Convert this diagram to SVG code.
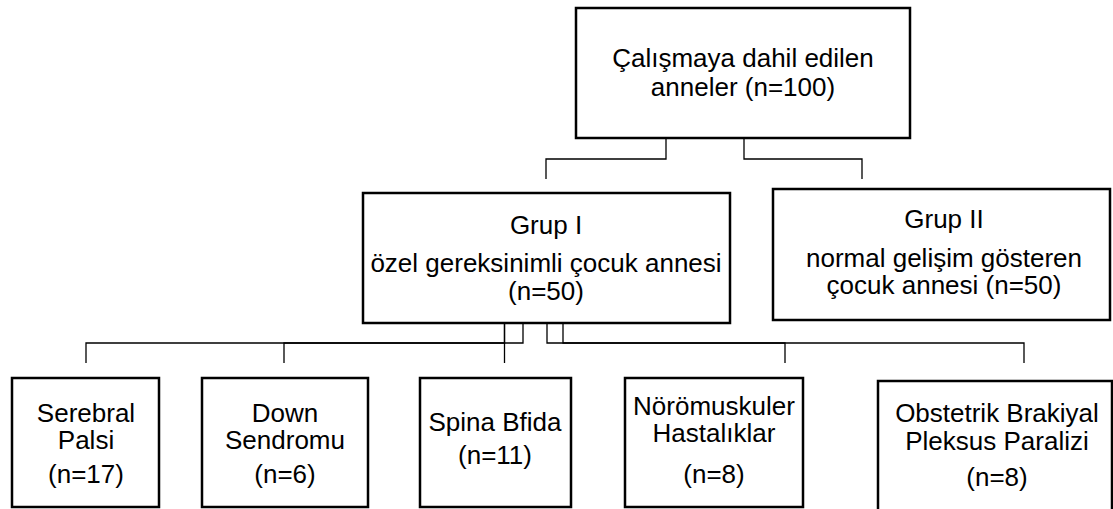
<svg xmlns="http://www.w3.org/2000/svg" width="1113" height="509" viewBox="0 0 1113 509">
<style>
.box{fill:#fff;stroke:#000;stroke-width:2.5}
.con{fill:none;stroke:#000;stroke-width:1.3}
text{font-family:"Liberation Sans",Arial,sans-serif;font-size:26px;fill:#000;text-anchor:middle}
</style>
<rect width="1113" height="509" fill="#fff"/>
<g id="connectors">
<path class="con" d="M666,138V159H546V179"/>
<path class="con" d="M744,138V159H862V179"/>
<path class="con" d="M504.5,323V343H86V363"/>
<path class="con" d="M523,323V343H284V363"/>
<path class="con" d="M504.5,323V363"/>
<path class="con" d="M547,323V343H785V363"/>
<path class="con" d="M563,323V343H1024V363"/>
</g>
<g id="root">
<rect class="box" x="576" y="8" width="334" height="130"/>
<text x="743" y="67">Çalışmaya dahil edilen</text>
<text x="743" y="96">anneler (n=100)</text>
</g>
<g id="grup1">
<rect class="box" x="363" y="193" width="367" height="130"/>
<text x="546" y="234">Grup I</text>
<text x="546" y="272">özel gereksinimli çocuk annesi</text>
<text x="546" y="300">(n=50)</text>
</g>
<g id="grup2">
<rect class="box" x="773" y="189" width="337" height="131"/>
<text x="944" y="228">Grup II</text>
<text x="944" y="267">normal gelişim gösteren</text>
<text x="944" y="294">çocuk annesi (n=50)</text>
</g>
<g id="sp">
<rect class="box" x="12" y="378" width="147" height="129"/>
<text x="86" y="422">Serebral</text>
<text x="86" y="449">Palsi</text>
<text x="86" y="483">(n=17)</text>
</g>
<g id="ds">
<rect class="box" x="202" y="378" width="166" height="129"/>
<text x="285" y="422">Down</text>
<text x="285" y="449">Sendromu</text>
<text x="285" y="483">(n=6)</text>
</g>
<g id="sb">
<rect class="box" x="420" y="378" width="151" height="129"/>
<text x="495" y="431">Spina Bfida</text>
<text x="495" y="464">(n=11)</text>
</g>
<g id="nm">
<rect class="box" x="625" y="378" width="178" height="129"/>
<text x="714" y="415">Nörömuskuler</text>
<text x="714" y="442">Hastalıklar</text>
<text x="714" y="483">(n=8)</text>
</g>
<g id="obp">
<rect class="box" x="878" y="381" width="234" height="140"/>
<text x="997" y="422">Obstetrik Brakiyal</text>
<text x="997" y="450">Pleksus Paralizi</text>
<text x="997" y="486">(n=8)</text>
</g>
</svg>
